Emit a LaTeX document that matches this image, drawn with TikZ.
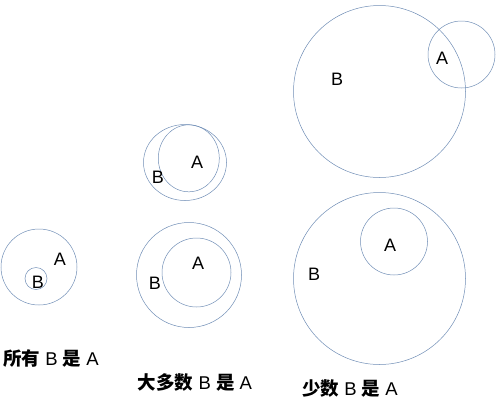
\documentclass[tikz,border=0pt]{standalone}
\usepackage{fontspec}
\setmainfont{Liberation Sans}
\newfontfamily\cjk{Noto Sans CJK SC}
\usetikzlibrary{shapes.geometric}
\definecolor{ringblue}{RGB}{112,142,182}

\begin{document}
\begin{tikzpicture}[x=1pt, y=-1pt,
    ring/.style={draw=ringblue, line width=0.5pt, circle, inner sep=0pt},
    oval/.style={draw=ringblue, line width=0.5pt, ellipse, inner sep=0pt},
    setname/.style={font=\fontsize{18}{20}\selectfont, inner sep=0pt},
    caption/.style={font=\fontsize{18.5}{21}\selectfont, inner sep=0pt},
]
    \useasboundingbox (0,0) rectangle (500,408);

    % all B are A
    \node[ring, minimum size=76] (ringA5) at (39,267) {};
    \node[ring, minimum size=22] (ringB5) at (36,278.5) {};
    \node[setname] (nameA5) at (60,259) {A};
    \node[setname] (nameB5) at (38,282) {B};
    \node[caption] (capAll) at (51,359) {{\cjk\bfseries 所有} B {\cjk\bfseries 是} A};

    % most B are A
    \node[oval, minimum width=83, minimum height=76] (ringB3) at (185,162.5) {};
    \node[oval, minimum width=61, minimum height=67] (ringA3) at (188.8,158.3) {};
    \node[setname] (nameA3) at (197,162) {A};
    \node[setname] (nameB3) at (158,177) {B};

    \node[ring, minimum size=105] (ringB4) at (189,275) {};
    \node[ring, minimum size=69] (ringA4) at (196.5,272.5) {};
    \node[setname] (nameA4) at (198,263) {A};
    \node[setname] (nameB4) at (155,283) {B};
    \node[caption] (capMost) at (195,382) {{\cjk\bfseries 大多数} B {\cjk\bfseries 是} A};

    % few B are A
    \node[ring, minimum size=172] (ringB1) at (379.5,91.5) {};
    \node[ring, minimum size=67] (ringA1) at (461.5,54.5) {};
    \node[setname] (nameA1) at (442,58) {A};
    \node[setname] (nameB1) at (337,79) {B};

    \node[ring, minimum size=172] (ringB2) at (379.5,278.5) {};
    \node[ring, minimum size=67] (ringA2) at (394,241.5) {};
    \node[setname] (nameA2) at (390,245) {A};
    \node[setname] (nameB2) at (314,274) {B};
    \node[caption] (capFew) at (350,389) {{\cjk\bfseries 少数} B {\cjk\bfseries 是} A};

\end{tikzpicture}
\end{document}
